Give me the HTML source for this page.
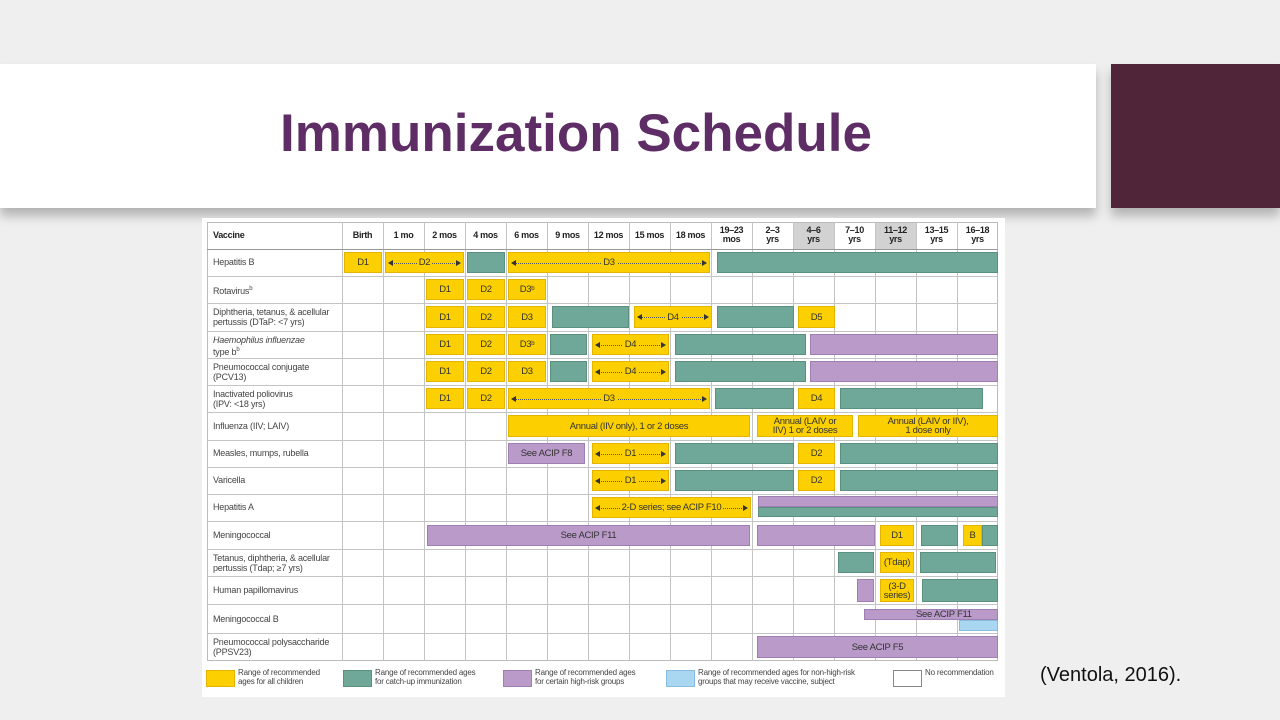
<!DOCTYPE html>
<html><head><meta charset="utf-8"><style>
body{margin:0;width:1280px;height:720px;position:relative;overflow:hidden;background:#efefef;font-family:"Liberation Sans",sans-serif}
.a{position:absolute;box-sizing:border-box}
.t{position:absolute;font-size:9px;color:#444;line-height:10px;white-space:nowrap;letter-spacing:-0.2px}
.h{position:absolute;font-size:9px;color:#222;font-weight:bold;text-align:center;line-height:9px;letter-spacing:-0.3px}
.b{position:absolute;box-sizing:border-box;font-size:9.5px;color:#333;display:flex;align-items:center;justify-content:center;text-align:center;line-height:9px;letter-spacing:-0.3px;white-space:nowrap}
.Y{background:#fcd000;border:1px solid #e3b400}
.G{background:#6fa898;border:1px solid #5a9080}
.P{background:#b99ac9;border:1px solid #9f7fb3}
.B{background:#a9d6f0;border:1px solid #89bde0}
.ar{position:relative;width:100%;height:100%;display:flex;align-items:center;justify-content:center}
.ar:before{content:"";position:absolute;left:4px;right:4px;top:50%;border-top:1px dotted #555}
.ar span{position:relative;background:#fcd000;padding:0 2px}
.ar i{position:absolute;top:50%;margin-top:-3px;width:0;height:0;border-top:3px solid transparent;border-bottom:3px solid transparent}
.ar i.l{left:2px;border-right:5px solid #333}
.ar i.r{right:2px;border-left:5px solid #333}
.vl{position:absolute;top:222px;height:439px;width:1px;background:#c4c4c4}
.hl{position:absolute;left:207px;width:791px;height:1px;background:#c4c4c4}
</style></head><body>
<div class="a" style="left:0;top:64px;width:1096px;height:144px;background:#fff;box-shadow:0 8px 10px rgba(0,0,0,0.25)"></div>
<div class="a" style="left:1111px;top:64px;width:169px;height:144px;background:#50253a;box-shadow:0 8px 10px rgba(0,0,0,0.25)"></div>
<div class="a" style="left:0;top:99px;width:1152px;text-align:center;font-size:53px;font-weight:bold;color:#5f2d66;line-height:70px">Immunization Schedule</div>
<div class="a" style="left:1040px;top:664px;font-size:20px;color:#111">(Ventola, 2016).</div>

<div class="a" style="left:202px;top:218px;width:803px;height:479px;background:#fff"></div>
<div class="a" style="left:793px;top:222px;width:41px;height:27px;background:#d2d2d2"></div>
<div class="a" style="left:875px;top:222px;width:41px;height:27px;background:#d2d2d2"></div>
<div class="a" style="left:207px;top:222px;width:791px;height:439px;border:1px solid #bbb"></div>
<div class="vl" style="left:342px"></div><div class="vl" style="left:383px"></div><div class="vl" style="left:424px"></div><div class="vl" style="left:465px"></div><div class="vl" style="left:506px"></div><div class="vl" style="left:547px"></div><div class="vl" style="left:588px"></div><div class="vl" style="left:629px"></div><div class="vl" style="left:670px"></div><div class="vl" style="left:711px"></div><div class="vl" style="left:752px"></div><div class="vl" style="left:793px"></div><div class="vl" style="left:834px"></div><div class="vl" style="left:875px"></div><div class="vl" style="left:916px"></div><div class="vl" style="left:957px"></div>
<div class="hl" style="top:249px;background:#999"></div><div class="hl" style="top:276px"></div><div class="hl" style="top:303px"></div><div class="hl" style="top:331px"></div><div class="hl" style="top:358px"></div><div class="hl" style="top:385px"></div><div class="hl" style="top:412px"></div><div class="hl" style="top:440px"></div><div class="hl" style="top:467px"></div><div class="hl" style="top:494px"></div><div class="hl" style="top:521px"></div><div class="hl" style="top:549px"></div><div class="hl" style="top:576px"></div><div class="hl" style="top:604px"></div><div class="hl" style="top:633px"></div>

<div class="h" style="left:213px;top:231px;text-align:left">Vaccine</div>
<div class="h" style="left:342px;width:41px;top:231px">Birth</div>
<div class="h" style="left:383px;width:41px;top:231px">1 mo</div>
<div class="h" style="left:424px;width:41px;top:231px">2 mos</div>
<div class="h" style="left:465px;width:41px;top:231px">4 mos</div>
<div class="h" style="left:506px;width:41px;top:231px">6 mos</div>
<div class="h" style="left:547px;width:41px;top:231px">9 mos</div>
<div class="h" style="left:588px;width:41px;top:231px">12 mos</div>
<div class="h" style="left:629px;width:41px;top:231px">15 mos</div>
<div class="h" style="left:670px;width:41px;top:231px">18 mos</div>
<div class="h" style="left:711px;width:41px;top:226px">19–23<br>mos</div>
<div class="h" style="left:752px;width:41px;top:226px">2–3<br>yrs</div>
<div class="h" style="left:793px;width:41px;top:226px">4–6<br>yrs</div>
<div class="h" style="left:834px;width:41px;top:226px">7–10<br>yrs</div>
<div class="h" style="left:875px;width:41px;top:226px">11–12<br>yrs</div>
<div class="h" style="left:916px;width:41px;top:226px">13–15<br>yrs</div>
<div class="h" style="left:957px;width:41px;top:226px">16–18<br>yrs</div>

<div class="t" style="left:213px;top:257px">Hepatitis B</div>
<div class="t" style="left:213px;top:284px">Rotavirus<sup style="font-size:6px">b</sup></div>
<div class="t" style="left:213px;top:307px">Diphtheria, tetanus, &amp; acellular<br>pertussis  (DTaP: &lt;7 yrs)</div>
<div class="t" style="left:213px;top:335px"><i>Haemophilus influenzae</i><br>type b<sup style="font-size:6px">b</sup></div>
<div class="t" style="left:213px;top:362px">Pneumococcal conjugate<br>(PCV13)</div>
<div class="t" style="left:213px;top:389px">Inactivated poliovirus<br>(IPV: &lt;18 yrs)</div>
<div class="t" style="left:213px;top:421px">Influenza (IIV; LAIV)</div>
<div class="t" style="left:213px;top:448px">Measles, mumps, rubella</div>
<div class="t" style="left:213px;top:475px">Varicella</div>
<div class="t" style="left:213px;top:502px">Hepatitis A</div>
<div class="t" style="left:213px;top:530px">Meningococcal</div>
<div class="t" style="left:213px;top:553px">Tetanus, diphtheria, &amp; acellular<br>pertussis (Tdap; ≥7 yrs)</div>
<div class="t" style="left:213px;top:585px">Human papillomavirus</div>
<div class="t" style="left:213px;top:614px">Meningococcal B</div>
<div class="t" style="left:213px;top:637px">Pneumococcal polysaccharide<br>(PPSV23)</div>

<!-- HepB -->
<div class="b Y" style="left:344px;top:252px;width:38px;height:21px">D1</div>
<div class="b Y" style="left:385px;top:252px;width:79px;height:21px"><div class="ar"><i class="l"></i><span>D2</span><i class="r"></i></div></div>
<div class="b G" style="left:467px;top:252px;width:38px;height:21px"></div>
<div class="b Y" style="left:508px;top:252px;width:202px;height:21px"><div class="ar"><i class="l"></i><span>D3</span><i class="r"></i></div></div>
<div class="b G" style="left:717px;top:252px;width:281px;height:21px"></div>
<!-- Rota -->
<div class="b Y" style="left:426px;top:279px;width:38px;height:21px">D1</div>
<div class="b Y" style="left:467px;top:279px;width:38px;height:21px">D2</div>
<div class="b Y" style="left:508px;top:279px;width:38px;height:21px">D3<sup style="font-size:6px">b</sup></div>
<!-- DTaP -->
<div class="b Y" style="left:426px;top:306px;width:38px;height:22px">D1</div>
<div class="b Y" style="left:467px;top:306px;width:38px;height:22px">D2</div>
<div class="b Y" style="left:508px;top:306px;width:38px;height:22px">D3</div>
<div class="b G" style="left:552px;top:306px;width:77px;height:22px"></div>
<div class="b Y" style="left:634px;top:306px;width:78px;height:22px"><div class="ar"><i class="l"></i><span>D4</span><i class="r"></i></div></div>
<div class="b G" style="left:717px;top:306px;width:77px;height:22px"></div>
<div class="b Y" style="left:798px;top:306px;width:37px;height:22px">D5</div>
<!-- Hib -->
<div class="b Y" style="left:426px;top:334px;width:38px;height:21px">D1</div>
<div class="b Y" style="left:467px;top:334px;width:38px;height:21px">D2</div>
<div class="b Y" style="left:508px;top:334px;width:38px;height:21px">D3<sup style="font-size:6px">b</sup></div>
<div class="b G" style="left:550px;top:334px;width:37px;height:21px"></div>
<div class="b Y" style="left:592px;top:334px;width:77px;height:21px"><div class="ar"><i class="l"></i><span>D4</span><i class="r"></i></div></div>
<div class="b G" style="left:675px;top:334px;width:131px;height:21px"></div>
<div class="b P" style="left:810px;top:334px;width:188px;height:21px"></div>
<!-- PCV -->
<div class="b Y" style="left:426px;top:361px;width:38px;height:21px">D1</div>
<div class="b Y" style="left:467px;top:361px;width:38px;height:21px">D2</div>
<div class="b Y" style="left:508px;top:361px;width:38px;height:21px">D3</div>
<div class="b G" style="left:550px;top:361px;width:37px;height:21px"></div>
<div class="b Y" style="left:592px;top:361px;width:77px;height:21px"><div class="ar"><i class="l"></i><span>D4</span><i class="r"></i></div></div>
<div class="b G" style="left:675px;top:361px;width:131px;height:21px"></div>
<div class="b P" style="left:810px;top:361px;width:188px;height:21px"></div>
<!-- IPV -->
<div class="b Y" style="left:426px;top:388px;width:38px;height:21px">D1</div>
<div class="b Y" style="left:467px;top:388px;width:38px;height:21px">D2</div>
<div class="b Y" style="left:508px;top:388px;width:202px;height:21px"><div class="ar"><i class="l"></i><span>D3</span><i class="r"></i></div></div>
<div class="b G" style="left:715px;top:388px;width:79px;height:21px"></div>
<div class="b Y" style="left:798px;top:388px;width:37px;height:21px">D4</div>
<div class="b G" style="left:840px;top:388px;width:143px;height:21px"></div>
<!-- Flu -->
<div class="b Y" style="left:508px;top:415px;width:242px;height:22px">Annual (IIV only), 1 or 2 doses</div>
<div class="b Y" style="left:757px;top:415px;width:96px;height:22px">Annual (LAIV or<br>IIV) 1 or 2 doses</div>
<div class="b Y" style="left:858px;top:415px;width:140px;height:22px">Annual (LAIV or IIV),<br>1 dose only</div>
<!-- MMR -->
<div class="b P" style="left:508px;top:443px;width:77px;height:21px">See ACIP F8</div>
<div class="b Y" style="left:592px;top:443px;width:77px;height:21px"><div class="ar"><i class="l"></i><span>D1</span><i class="r"></i></div></div>
<div class="b G" style="left:675px;top:443px;width:119px;height:21px"></div>
<div class="b Y" style="left:798px;top:443px;width:37px;height:21px">D2</div>
<div class="b G" style="left:840px;top:443px;width:158px;height:21px"></div>
<!-- Var -->
<div class="b Y" style="left:592px;top:470px;width:77px;height:21px"><div class="ar"><i class="l"></i><span>D1</span><i class="r"></i></div></div>
<div class="b G" style="left:675px;top:470px;width:119px;height:21px"></div>
<div class="b Y" style="left:798px;top:470px;width:37px;height:21px">D2</div>
<div class="b G" style="left:840px;top:470px;width:158px;height:21px"></div>
<!-- HepA -->
<div class="b Y" style="left:592px;top:497px;width:159px;height:21px"><div class="ar"><i class="l"></i><span>2-D series; see ACIP F10</span><i class="r"></i></div></div>
<div class="b P" style="left:758px;top:496px;width:240px;height:11px"></div>
<div class="b G" style="left:758px;top:507px;width:240px;height:10px"></div>
<!-- Mening -->
<div class="b P" style="left:427px;top:525px;width:323px;height:21px">See ACIP F11</div>
<div class="b P" style="left:757px;top:525px;width:118px;height:21px"></div>
<div class="b Y" style="left:880px;top:525px;width:34px;height:21px">D1</div>
<div class="b G" style="left:921px;top:525px;width:37px;height:21px"></div>
<div class="b Y" style="left:963px;top:525px;width:19px;height:21px">B</div>
<div class="b G" style="left:982px;top:525px;width:16px;height:21px"></div>
<!-- Tdap -->
<div class="b G" style="left:838px;top:552px;width:36px;height:21px"></div>
<div class="b Y" style="left:880px;top:552px;width:34px;height:21px">(Tdap)</div>
<div class="b G" style="left:920px;top:552px;width:76px;height:21px"></div>
<!-- HPV -->
<div class="b P" style="left:857px;top:579px;width:17px;height:23px"></div>
<div class="b Y" style="left:880px;top:579px;width:34px;height:23px">(3-D<br>series)</div>
<div class="b G" style="left:922px;top:579px;width:76px;height:23px"></div>
<!-- MenB -->
<div class="b P" style="left:864px;top:609px;width:134px;height:11px">&nbsp;&nbsp;&nbsp;&nbsp;&nbsp;&nbsp;&nbsp;&nbsp;&nbsp;&nbsp;&nbsp;See ACIP F11</div>
<div class="b B" style="left:959px;top:620px;width:39px;height:11px"></div>
<!-- PPSV -->
<div class="b P" style="left:757px;top:636px;width:241px;height:22px">See ACIP F5</div>

<!-- legend -->
<div class="a Y" style="left:206px;top:670px;width:29px;height:17px"></div>
<div class="t" style="left:238px;top:668px;font-size:8px;line-height:9px">Range of recommended<br>ages for all children</div>
<div class="a G" style="left:343px;top:670px;width:29px;height:17px"></div>
<div class="t" style="left:375px;top:668px;font-size:8px;line-height:9px">Range of recommended ages<br>for catch-up immunization</div>
<div class="a P" style="left:503px;top:670px;width:29px;height:17px"></div>
<div class="t" style="left:535px;top:668px;font-size:8px;line-height:9px">Range of recommended ages<br>for certain high-risk groups</div>
<div class="a B" style="left:666px;top:670px;width:29px;height:17px"></div>
<div class="t" style="left:698px;top:668px;font-size:8px;line-height:9px">Range of recommended ages for non-high-risk<br>groups that may receive vaccine, subject</div>
<div class="a" style="left:893px;top:670px;width:29px;height:17px;border:1px solid #888;background:#fff"></div>
<div class="t" style="left:925px;top:668px;font-size:8px;line-height:9px">No recommendation</div>
</body></html>
